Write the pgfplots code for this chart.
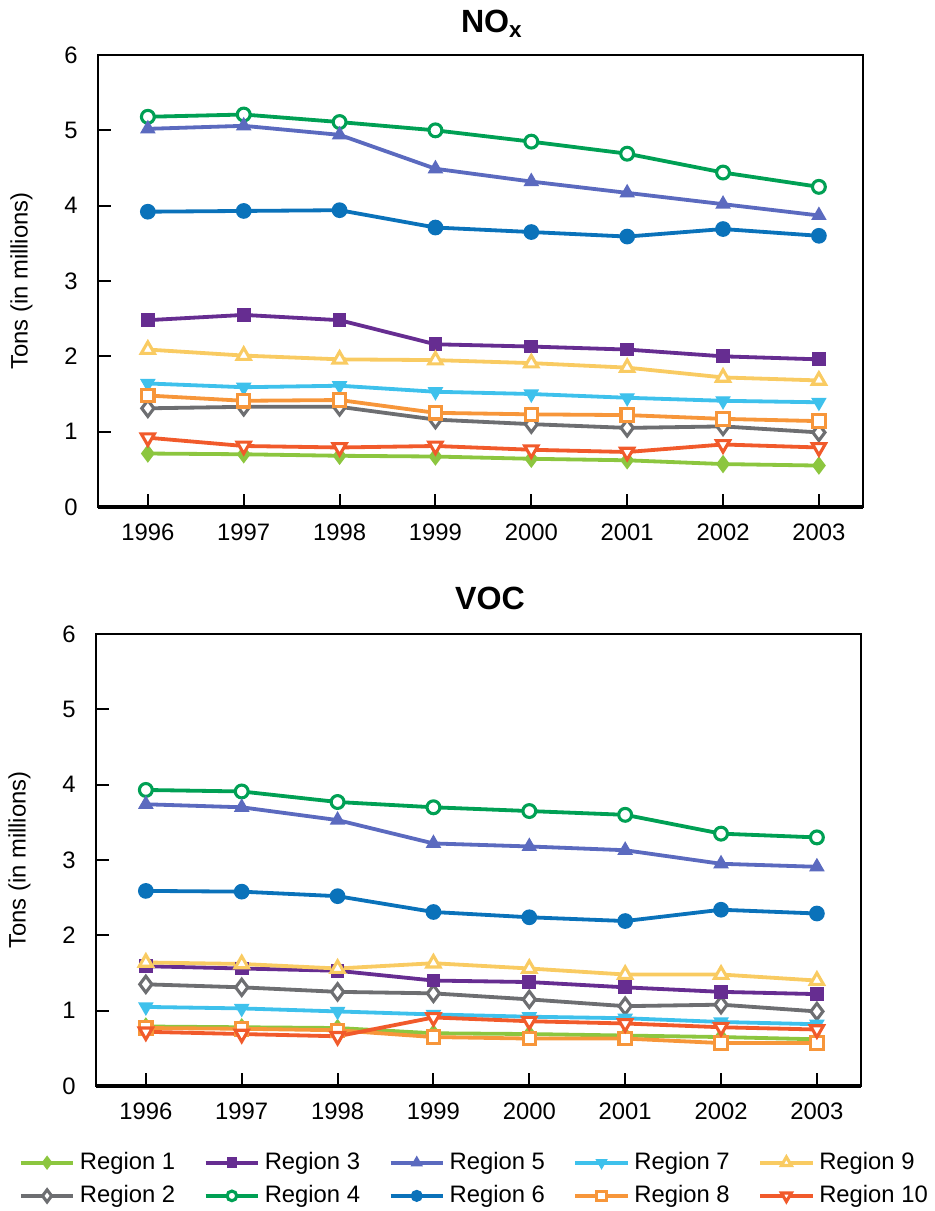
\documentclass[border=0pt]{standalone}
\usepackage{fontspec}
\setmainfont{Liberation Sans}
\usepackage{pgfplots}
\usepackage{pgfplotstable}
\pgfplotsset{compat=1.18}

\definecolor{cR1}{HTML}{8CC63F}
\definecolor{cR2}{HTML}{6D6E71}
\definecolor{cR3}{HTML}{662D91}
\definecolor{cR4}{HTML}{00A054}
\definecolor{cR5}{HTML}{5B6ABF}
\definecolor{cR6}{HTML}{0A72BA}
\definecolor{cR7}{HTML}{3EC1EC}
\definecolor{cR8}{HTML}{F7963A}
\definecolor{cR9}{HTML}{F9CB62}
\definecolor{cR10}{HTML}{F15A2B}

\pgfplotstableread{
year r1 r2 r3 r4 r5 r6 r7 r8 r9 r10
1996 0.71 1.31 2.48 5.18 5.02 3.92 1.64 1.48 2.09 0.92
1997 0.70 1.33 2.55 5.21 5.06 3.93 1.59 1.41 2.01 0.81
1998 0.68 1.33 2.48 5.11 4.94 3.94 1.61 1.42 1.96 0.79
1999 0.67 1.16 2.16 5.00 4.49 3.71 1.53 1.25 1.95 0.81
2000 0.64 1.10 2.13 4.85 4.32 3.65 1.50 1.23 1.91 0.76
2001 0.62 1.05 2.09 4.69 4.17 3.59 1.45 1.22 1.85 0.73
2002 0.57 1.07 2.00 4.44 4.02 3.69 1.41 1.17 1.72 0.83
2003 0.55 0.99 1.96 4.25 3.87 3.60 1.39 1.14 1.68 0.79
}\noxtable

\pgfplotstableread{
year r1 r2 r3 r4 r5 r6 r7 r8 r9 r10
1996 0.79 1.35 1.59 3.93 3.74 2.59 1.05 0.77 1.64 0.72
1997 0.78 1.31 1.56 3.91 3.70 2.58 1.03 0.76 1.62 0.69
1998 0.77 1.25 1.53 3.77 3.53 2.52 0.99 0.74 1.56 0.66
1999 0.70 1.23 1.40 3.70 3.22 2.31 0.95 0.65 1.63 0.91
2000 0.69 1.15 1.38 3.65 3.18 2.24 0.92 0.63 1.56 0.86
2001 0.67 1.06 1.31 3.60 3.13 2.19 0.90 0.63 1.48 0.83
2002 0.65 1.08 1.25 3.35 2.95 2.34 0.85 0.57 1.48 0.78
2003 0.62 0.99 1.22 3.30 2.91 2.29 0.82 0.57 1.40 0.75
}\voctable

\pgfplotsset{
  r1/.style={cR1, line width=1.6pt, mark=diamond*, mark size=3.4pt, mark options={solid, fill=cR1, draw=cR1, line width=0.6pt}},
  r2/.style={cR2, line width=1.6pt, mark=diamond*, mark size=3.4pt, mark options={solid, fill=white, draw=cR2, line width=1.3pt}},
  r3/.style={cR3, line width=1.6pt, mark=square*, mark size=2.6pt, mark options={solid, fill=cR3, draw=cR3, line width=0.6pt}},
  r4/.style={cR4, line width=1.6pt, mark=*, mark size=2.7pt, mark options={solid, fill=white, draw=cR4, line width=1.3pt}},
  r5/.style={cR5, line width=1.6pt, mark=triangle*, mark size=3.2pt, mark options={solid, fill=cR5, draw=cR5, line width=0.6pt}},
  r6/.style={cR6, line width=1.6pt, mark=*, mark size=3.0pt, mark options={solid, fill=cR6, draw=cR6, line width=0.6pt}},
  r7/.style={cR7, line width=1.6pt, mark=triangle*, mark size=3.2pt, mark options={solid, rotate=180, fill=cR7, draw=cR7, line width=0.6pt}},
  r8/.style={cR8, line width=1.6pt, mark=square*, mark size=2.6pt, mark options={solid, fill=white, draw=cR8, line width=1.3pt}},
  r9/.style={cR9, line width=1.6pt, mark=triangle*, mark size=3.2pt, mark options={solid, fill=white, draw=cR9, line width=1.3pt}},
  r10/.style={cR10, line width=1.6pt, mark=triangle*, mark size=3.2pt, mark options={solid, rotate=180, fill=white, draw=cR10, line width=1.3pt}},
  myaxis/.style={
    scale only axis, width=321.3pt, height=189.84pt,
    xmin=1995.48, xmax=2003.46, ymin=0, ymax=6,
    ytick={0,1,2,3,4,5,6}, yticklabels={0,1,2,3,4,5,6},
    xtick={1996,1997,1998,1999,2000,2001,2002,2003},
    xticklabels={1996,1997,1998,1999,2000,2001,2002,2003},
    tick pos=left, tick align=inside, major tick length=5.5pt,
    tick style={black, line width=0.8pt},
    axis line style={black, line width=0.9pt},
    ticklabel style={font=\fontsize{10}{12}\selectfont},
    yticklabel style={anchor=east, inner sep=0pt, xshift=-8.4pt},
    xticklabel style={anchor=north, inner sep=0pt, yshift=-6.7pt},
    ylabel={Tons (in millions)},
    ylabel style={at={(axis description cs:-0.100,0.5)}, anchor=center, font=\fontsize{10}{12}\selectfont},
    every axis title shift=0pt,
    title style={at={(axis description cs:0.515,1)}, anchor=base, yshift=9.5pt, inner sep=0pt, font=\bfseries\fontsize{13.5}{16}\selectfont},
    clip=false,
    legend image code/.code={\draw[mark repeat=2, mark phase=2, #1, /tikz/every mark/.append style={scale=0.75}] plot coordinates {(0pt,0pt) (11pt,0pt) (22pt,0pt)};},
  }
}

\begin{document}
\begin{tikzpicture}
\useasboundingbox (0,0) rectangle (392.7pt,-508.62pt);
\begin{axis}[myaxis, at={(41.16pt,-212.94pt)}, anchor=south west, title={NO\textsubscript{x}}]
  \addplot[r1] table[x=year,y=r1] {\noxtable};
  \addplot[r2] table[x=year,y=r2] {\noxtable};
  \addplot[r3] table[x=year,y=r3] {\noxtable};
  \addplot[r4] table[x=year,y=r4] {\noxtable};
  \addplot[r5] table[x=year,y=r5] {\noxtable};
  \addplot[r6] table[x=year,y=r6] {\noxtable};
  \addplot[r7] table[x=year,y=r7] {\noxtable};
  \addplot[r8] table[x=year,y=r8] {\noxtable};
  \addplot[r9] table[x=year,y=r9] {\noxtable};
  \addplot[r10] table[x=year,y=r10] {\noxtable};
  \draw[black, line width=1.6pt] (rel axis cs:0,0) -- (rel axis cs:1,0);
\end{axis}
\begin{axis}[myaxis, at={(40.32pt,-456.12pt)}, anchor=south west, title={VOC},
  title style={yshift=1pt},
  legend columns=5,
  legend cell align=left,
  legend style={draw=none, fill=none, inner sep=0pt, at={(axis description cs:-0.1013,-0.135)}, anchor=north west,
    font=\fontsize{10}{12}\selectfont, row sep=1.2pt,
    /tikz/every even column/.append style={column sep=10.0pt}}]
  \addplot[r1, forget plot] table[x=year,y=r1] {\voctable};
  \addplot[r2, forget plot] table[x=year,y=r2] {\voctable};
  \addplot[r3, forget plot] table[x=year,y=r3] {\voctable};
  \addplot[r4, forget plot] table[x=year,y=r4] {\voctable};
  \addplot[r5, forget plot] table[x=year,y=r5] {\voctable};
  \addplot[r6, forget plot] table[x=year,y=r6] {\voctable};
  \addplot[r7, forget plot] table[x=year,y=r7] {\voctable};
  \addplot[r8, forget plot] table[x=year,y=r8] {\voctable};
  \addplot[r9, forget plot] table[x=year,y=r9] {\voctable};
  \addplot[r10, forget plot] table[x=year,y=r10] {\voctable};
  \draw[black, line width=1.6pt] (rel axis cs:0,0) -- (rel axis cs:1,0);
  \addlegendimage{r1}\addlegendentry{Region 1}
  \addlegendimage{r3}\addlegendentry{Region 3}
  \addlegendimage{r5}\addlegendentry{Region 5}
  \addlegendimage{r7}\addlegendentry{Region 7}
  \addlegendimage{r9}\addlegendentry{Region 9}
  \addlegendimage{r2}\addlegendentry{Region 2}
  \addlegendimage{r4}\addlegendentry{Region 4}
  \addlegendimage{r6}\addlegendentry{Region 6}
  \addlegendimage{r8}\addlegendentry{Region 8}
  \addlegendimage{r10}\addlegendentry{Region 10}
\end{axis}
\end{tikzpicture}
\end{document}
